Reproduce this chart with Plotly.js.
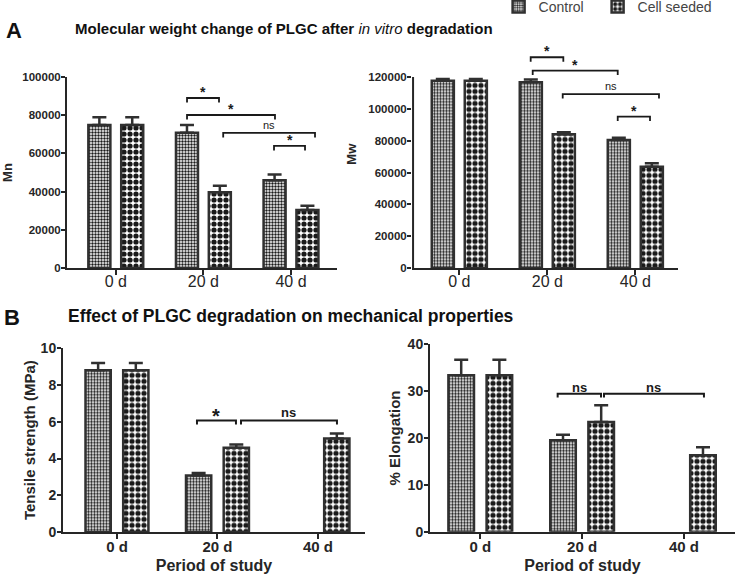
<!DOCTYPE html>
<html>
<head>
<meta charset="utf-8">
<script src="https://cdn.plot.ly/plotly-3.0.1.min.js"></script>
<style>html,body{margin:0;padding:0;background:#fff;}#chart{width:739px;height:578px;}</style>
</head>
<body>
<div id="chart"></div>
<script>
// ---------- data ----------
const categories = ['0 d', '20 d', '40 d'];
const seriesNames = ['Control', 'Cell seeded'];

const mnControl = [74900, 70800, 45900];
const mnControlErr = [4000, 4100, 3100];
const mnCell = [74900, 39700, 30400];
const mnCellErr = [4000, 3400, 2200];
const mnTicks = [0, 20000, 40000, 60000, 80000, 100000];

const mwControl = [117700, 116700, 80400];
const mwControlErr = [1000, 1800, 1500];
const mwCell = [117700, 84000, 63600];
const mwCellErr = [1000, 1300, 2200];
const mwTicks = [0, 20000, 40000, 60000, 80000, 100000, 120000];

const tsControl = [8.8, 3.08, null];
const tsControlErr = [0.4, 0.13, null];
const tsCell = [8.8, 4.58, 5.09];
const tsCellErr = [0.4, 0.19, 0.27];
const tsTicks = [0, 2, 4, 6, 8, 10];

const elControl = [33.4, 19.5, null];
const elControlErr = [3.3, 1.2, null];
const elCell = [33.4, 23.4, 16.3];
const elCellErr = [3.3, 3.6, 1.7];
const elTicks = [0, 10, 20, 30, 40];

// significance brackets: [from (category units), to, height (data units), label]
const mnSig = [[0.813, 1.178, 89000, '*'], [0.813, 1.817, 80100, '*'], [1.226, 2.274, 70700, 'ns'], [1.806, 2.16, 63900, '*']];
const mwSig = [[0.811, 1.182, 132400, '*'], [0.834, 1.80, 124000, '*'], [1.175, 2.269, 109300, 'ns'], [1.80, 2.167, 95100, '*']];
const tsSig = [[0.796, 1.184, 6.07, '*'], [1.234, 2.189, 6.07, 'ns']];
const elSig = [[0.76, 1.186, 29.45, 'ns'], [1.215, 2.197, 29.45, 'ns']];

// ---------- styles ----------
const FONT = 'Arial, "Liberation Sans", Helvetica, sans-serif';
const INK = '#262626';
const patterns = [
  {shape: '.', size: 3, solidity: 0.5, fgcolor: '#1a1a1a', bgcolor: '#ffffff', fillmode: 'replace'},
  {shape: '.', size: 6, solidity: 0.6, fgcolor: '#1a1a1a', bgcolor: '#ffffff', fillmode: 'replace'}
];
const legendIds = ['legend', 'legend2'];

function barTrace(vals, errs, idx, xa, ya, showLegend) {
  return {
    type: 'bar', x: categories, y: vals, name: seriesNames[idx],
    xaxis: xa, yaxis: ya, showlegend: showLegend, legend: legendIds[idx], legendgroup: seriesNames[idx],
    marker: {color: '#ffffff', pattern: patterns[idx], line: {color: '#303030', width: 2.5}},
    error_y: {type: 'data', symmetric: false, array: errs, arrayminus: errs.map(e => e == null ? null : 0),
              color: '#303030', thickness: 2.5, width: 7},
    hoverinfo: 'x+y'
  };
}

const data = [
  barTrace(mnControl, mnControlErr, 0, 'x', 'y', true),
  barTrace(mnCell, mnCellErr, 1, 'x', 'y', true),
  barTrace(mwControl, mwControlErr, 0, 'x2', 'y2', false),
  barTrace(mwCell, mwCellErr, 1, 'x2', 'y2', false),
  barTrace(tsControl, tsControlErr, 0, 'x3', 'y3', false),
  barTrace(tsCell, tsCellErr, 1, 'x3', 'y3', false),
  barTrace(elControl, elControlErr, 0, 'x4', 'y4', false),
  barTrace(elCell, elCellErr, 1, 'x4', 'y4', false)
];

function xAxis(domain, range, anchor, fontSize, bold, standoff) {
  return {
    domain: domain, range: range, anchor: anchor, type: 'category',
    showline: true, linecolor: INK, linewidth: 2, ticks: 'outside', ticklen: 5, tickwidth: 2, tickcolor: INK,
    showgrid: false, zeroline: false, fixedrange: true, ticklabelstandoff: standoff,
    tickfont: {family: FONT, size: fontSize, color: INK, weight: bold ? 'bold' : 400}
  };
}
function yAxis(domain, range, anchor, ticks, title, titleSize, standoff, tickSize, showLine) {
  return {
    domain: domain, range: range, anchor: anchor, tickvals: ticks, tickformat: 'd',
    showline: showLine, linecolor: INK, linewidth: 2, ticks: 'outside', ticklen: 4, tickwidth: 2, tickcolor: INK,
    showgrid: false, zeroline: false, fixedrange: true, ticklabelstandoff: -2,
    tickfont: {family: FONT, size: tickSize, color: INK, weight: 'bold'},
    title: {text: title, standoff: standoff, font: {family: FONT, size: titleSize, color: INK, weight: 'bold'}}
  };
}
function legendAt(px, py) {
  return {orientation: 'h', x: px / 739, xanchor: 'left', y: 1 + py / 578, yanchor: 'top',
          font: {family: FONT, size: 14, color: '#444'}, bgcolor: 'rgba(0,0,0,0)', itemclick: false};
}

const mwRange = [0, 143000];
const mwXRange = [-0.5375, 2.485];

const layout = {
  width: 739, height: 578,
  margin: {l: 0, r: 0, t: 0, b: 0, pad: 0, autoexpand: false},
  paper_bgcolor: '#ffffff', plot_bgcolor: 'rgba(0,0,0,0)',
  barmode: 'group', bargap: 0.25, bargroupgap: 0.33,
  font: {family: FONT, color: INK},
  showlegend: true,
  legend: legendAt(498.6, 9),
  legend2: legendAt(597.6, 9),
  xaxis: xAxis([67/739, 337/739], [-0.557, 2.525], 'y', 16, false, -7),
  yaxis: yAxis([1 - 268/578, 1 - 77/578], [0, 100000], 'x', mnTicks, 'Mn', 13, 11, 11.5, true),
  xaxis2: xAxis([412/739, 678/739], mwXRange, 'y2', 16, false, -7),
  yaxis2: yAxis([1 - 268/578, 1 - (268 - 191 * mwRange[1] / 120000)/578], mwRange, 'x2', mwTicks, 'Mw', 13, 8, 11.5, false),
  xaxis3: Object.assign(xAxis([63/739, 365/739], [-0.537, 2.468], 'y3', 15, true, -5),
          {title: {text: 'Period of study', standoff: 6, font: {family: FONT, size: 16, color: INK, weight: 'bold'}}}),
  yaxis3: yAxis([1 - 532/578, 1 - 348.3/578], [0, 10], 'x3', tsTicks, 'Tensile strength (MPa)', 15, 1, 14, true),
  xaxis4: Object.assign(xAxis([430/739, 735/739], [-0.494, 2.502], 'y4', 15, true, -5),
          {title: {text: 'Period of study', standoff: 6, font: {family: FONT, size: 16, color: INK, weight: 'bold'}}}),
  yaxis4: yAxis([1 - 531.7/578, 1 - 344.3/578], [0, 40], 'x4', elTicks, '% Elongation', 15, 3, 14, true),
  shapes: [],
  annotations: [
    {xref: 'paper', yref: 'paper', x: 4/739, y: 1 - 30/578, xanchor: 'left', yanchor: 'middle', showarrow: false,
     text: '<b>A</b>', font: {family: FONT, size: 22, color: '#111'}},
    {xref: 'paper', yref: 'paper', x: 73/739, y: 1 - 29/578, xanchor: 'left', yanchor: 'middle', showarrow: false,
     text: '<b>Molecular weight change of PLGC after </b><i>in vitro</i><b> degradation</b>', font: {family: FONT, size: 15, color: '#111'}},
    {xref: 'paper', yref: 'paper', x: 2/739, y: 1 - 317/578, xanchor: 'left', yanchor: 'middle', showarrow: false,
     text: '<b>B</b>', font: {family: FONT, size: 22, color: '#111'}},
    {xref: 'paper', yref: 'paper', x: 66/739, y: 1 - 316/578, xanchor: 'left', yanchor: 'middle', showarrow: false,
     text: '<b>Effect of PLGC degradation on mechanical properties</b>', font: {family: FONT, size: 17.5, color: '#111'}}
  ]
};

// Mw axis line only up to the last tick
layout.shapes.push({type: 'line', xref: 'x2', yref: 'y2', x0: mwXRange[0] + 0.012, x1: mwXRange[0] + 0.012,
  y0: 0, y1: mwTicks[mwTicks.length - 1], line: {color: INK, width: 2}});

function addSig(list, xa, ya, drop, lineW, starSize, nsSize, nsBold, nsShift) {
  list.forEach(([a, b, h, lab]) => {
    layout.shapes.push({type: 'path', xref: xa, yref: ya,
      path: `M ${a},${h - drop} L ${a},${h} L ${b},${h} L ${b},${h - drop}`,
      line: {color: '#1a1a1a', width: lineW}});
    const isStar = lab === '*';
    layout.annotations.push({xref: xa, yref: ya, x: (a + b) / 2, y: h, xanchor: 'center', yanchor: 'bottom',
      yshift: isStar ? Math.round(7 - 0.78 * starSize) : nsShift, showarrow: false,
      text: lab, font: {family: FONT, size: isStar ? starSize : nsSize, color: '#1a1a1a', weight: (isStar || nsBold) ? 'bold' : 400}});
  });
}
addSig(mnSig, 'x', 'y', 2400, 1.8, 14, 11, false, 0);
addSig(mwSig, 'x2', 'y2', 2800, 1.8, 14, 11, false, 0);
addSig(tsSig, 'x3', 'y3', 0.22, 2, 20, 13, true, -2);
addSig(elSig, 'x4', 'y4', 0.8, 2, 20, 13, true, -3);

Plotly.newPlot('chart', data, layout, {displayModeBar: false, staticPlot: true});
</script>
</body>
</html>
